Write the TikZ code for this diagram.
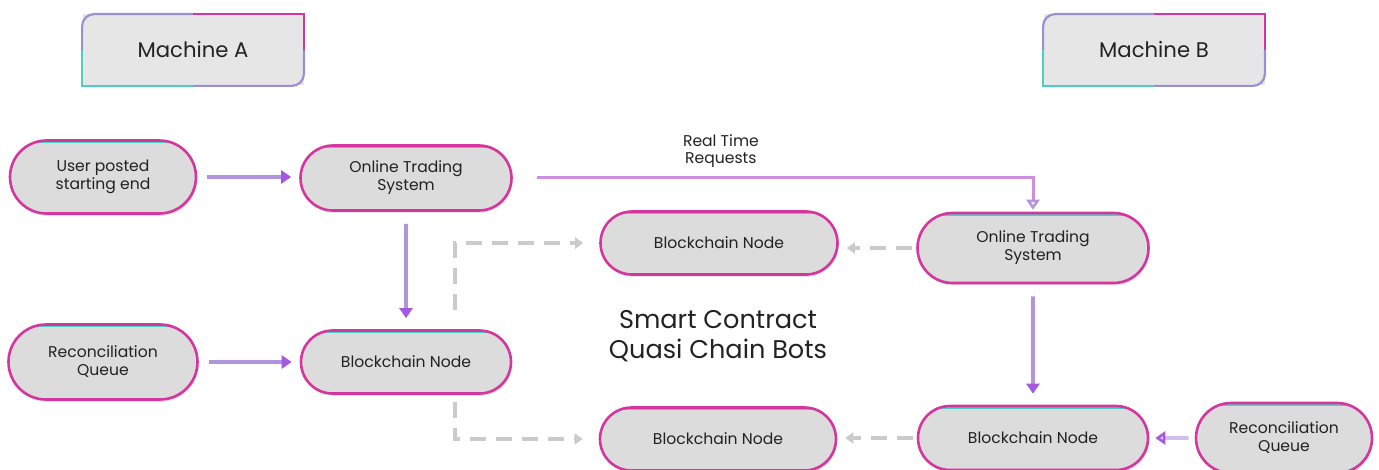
\documentclass[tikz,border=0pt]{standalone}
\usepackage{fontspec}
\setmainfont{Poppins}
\usetikzlibrary{arrows.meta,shapes.misc,shadows,positioning,calc}
\definecolor{pinkedge}{HTML}{D4369E}
\definecolor{tealedge}{HTML}{4CCFC0}
\definecolor{lilacedge}{HTML}{9A8FD0}
\definecolor{pillgray}{HTML}{DCDCDC}
\definecolor{boxgray}{HTML}{E6E6E6}
\definecolor{flowpurple}{HTML}{B294DE}
\definecolor{tippurple}{HTML}{A35AE0}
\definecolor{rtpink}{HTML}{CC8FE0}
\definecolor{dashgray}{HTML}{CBCBCB}
\definecolor{ink}{HTML}{222222}
\tikzstyle{pill}=[rounded rectangle,draw=pinkedge,line width=1.3pt,fill=pillgray,align=center,text=ink,
  font=\fontsize{7.8}{9}\selectfont,inner sep=0pt,
  drop shadow={opacity=0.2,shadow xshift=0.6pt,shadow yshift=-1.2pt},
  path picture={\draw[tealedge,line width=0.9pt]
    ([xshift=11pt,yshift=-1pt]path picture bounding box.north west) --
    ([xshift=-11pt,yshift=-1pt]path picture bounding box.north east);}]
\tikzstyle{machine}=[rectangle,fill=boxgray,minimum width=110.5pt,minimum height=35.5pt,text=ink,
  font=\fontsize{10.6}{12}\selectfont]
\tikzstyle{flow}=[draw=flowpurple,line width=1.8pt,-{Triangle[length=5pt,width=6.5pt,color=tippurple]}]
\tikzstyle{ghost}=[draw=dashgray,line width=1.8pt,dash pattern=on 8pt off 5pt,-{Triangle[length=4pt,width=5.5pt]}]

\begin{document}
\begin{tikzpicture}[x=0.5pt,y=-0.5pt]
    \useasboundingbox (0,0) rectangle (1379,470);
    % Machine labels
    \node[machine] (mA) at (193,50) {Machine A};
    \node[machine] (mB) at (1154,50) {Machine B};
    \foreach \m in {mA,mB} {
        \draw[lilacedge,line width=1.1pt,rounded corners=6pt] (\m.west) |- (\m.north);
        \draw[pinkedge,line width=1.1pt] (\m.north) -| (\m.east);
        \draw[lilacedge,line width=1.1pt,rounded corners=6pt] (\m.east) |- (\m.south);
        \draw[tealedge,line width=1.1pt] (\m.south) -| (\m.west);
    }
    % The pill shaped steps
    \foreach \pos/\name/\txt/\w/\h in {
        {(103,177)/usr/{User posted\\starting end}/93pt/36.5pt},
        {(406,178)/otsA/{Online Trading\\System}/105.5pt/32.5pt},
        {(103,362)/rqA/{Reconciliation\\Queue}/94.5pt/37.5pt},
        {(406,362)/bnA/{Blockchain Node}/105pt/31.5pt},
        {(719,243)/bnTop/{Blockchain Node}/118.5pt/31.5pt},
        {(1033,248)/otsB/{Online Trading\\System}/115.5pt/35pt},
        {(718,439)/bnBot/{Blockchain Node}/118pt/31.5pt},
        {(1033,438)/bnB/{Blockchain Node}/115pt/32pt},
        {(1284,438)/rqB/{Reconciliation\\Queue}/88pt/35pt}}
        \node[pill,minimum width=\w,minimum height=\h] (\name) at \pos {\txt};
    \node[align=center,text=ink,font=\fontsize{12.8}{15}\selectfont] (smart) at (718,336)
        {Smart Contract\\Quasi Chain Bots};
    % Solid flows
    \foreach \source/\dest in {usr/otsA, rqA/bnA}
        \path[flow,shorten <=5pt,shorten >=4pt] (\source.east) -- (\source.east -| \dest.west);
    \foreach \source/\dest in {otsA/bnA, otsB/bnB}
        \path[flow,shorten <=6pt,shorten >=5.5pt] (\source) -- (\dest);
    \path[draw=flowpurple!60,line width=1.8pt,shorten <=3pt,shorten >=3pt,
        -{Triangle[open,length=5pt,width=6.5pt,color=tippurple,fill=flowpurple!40]}] (rqB) -- (bnB);
    % Real time requests
    \path[draw=rtpink,line width=1.5pt,shorten <=12pt,shorten >=1pt,
        -{Triangle[open,length=5pt,width=6.5pt,color=flowpurple]}]
        (otsA.east) -| node[pos=0.2,above=1pt,align=center,text=ink,font=\fontsize{7.8}{8.6}\selectfont] (rt)
        {Real Time\\Requests} (otsB.north);
    % Dashed links
    \coordinate (upA) at (455,310);
    \coordinate (dnA) at (455,402);
    \path[ghost,shorten >=8pt] (upA) |- (bnTop.west);
    \path[ghost,shorten >=8pt] (dnA) |- (bnBot.west);
    \path[ghost,shorten <=2pt,shorten >=4pt] (otsB.west) -- (otsB.west -| bnTop.east);
    \path[ghost,shorten <=2pt,shorten >=4pt] (bnB.west) -- (bnB.west -| bnBot.east);
\end{tikzpicture}
\end{document}
